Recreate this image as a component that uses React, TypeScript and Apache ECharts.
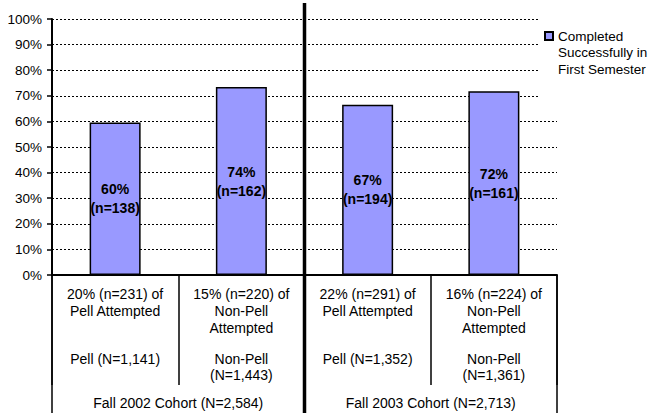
import React, { useEffect, useRef } from "react";
import * as echarts from "echarts";

const categories = [
  "20% (n=231) of\nPell Attempted",
  "15% (n=220) of\nNon-Pell\nAttempted",
  "22% (n=291) of\nPell Attempted",
  "16% (n=224) of\nNon-Pell\nAttempted",
];
const groupLabels = [
  "Pell (N=1,141)",
  "Non-Pell\n(N=1,443)",
  "Pell (N=1,352)",
  "Non-Pell\n(N=1,361)",
];
const cohortLabels = ["Fall 2002 Cohort (N=2,584)", "Fall 2003 Cohort (N=2,713)"];
const completedValues = [59.6, 73.4, 66.5, 71.8];
const percentLabels = ["60%", "74%", "67%", "72%"];
const countLabels = ["(n=138)", "(n=162)", "(n=194)", "(n=161)"];
const seriesName = "Completed\nSuccessfully in\nFirst Semester";

const W = 651;
const H = 413;
const GRID_LEFT = 52;
const GRID_RIGHT = 94;
const GRID_TOP = 19;
const GRID_BOTTOM = 138;
const FONT = "Arial, 'Liberation Sans', sans-serif";

export default function App() {
  const ref = useRef<HTMLDivElement>(null);
  useEffect(() => {
    document.body.style.margin = "0";
    if (!ref.current) return;
    const chart = echarts.init(ref.current, null, { renderer: "svg" });
    const dividerX = GRID_LEFT + (W - GRID_LEFT - GRID_RIGHT) / 2;
    chart.setOption({
      animation: false,
      backgroundColor: "#fff",
      textStyle: { fontFamily: FONT },
      grid: { left: GRID_LEFT, right: GRID_RIGHT, top: GRID_TOP, bottom: GRID_BOTTOM, containLabel: false },
      legend: {
        data: [seriesName],
        left: 538,
        top: -5.25,
        padding: [0, 4, 31, 6],
        backgroundColor: "#fff",
        icon: "rect",
        itemWidth: 8,
        itemHeight: 8,
        itemGap: 0,
        selectedMode: false,
        formatter: (name: string) => "\n\n" + name,
        textStyle: {
          fontFamily: FONT,
          fontSize: 13.5,
          lineHeight: 16.5,
          color: "#000",
        },
      },
      xAxis: [
        {
          type: "category",
          data: categories,
          position: "bottom",
          axisLine: { lineStyle: { color: "#000", width: 2 } },
          axisTick: { show: true, interval: 0, length: 110, lineStyle: { color: "#000", width: 1.5 } },
          axisLabel: {
            interval: 0,
            margin: 10.5,
            fontSize: 14,
            lineHeight: 17,
            color: "#000",
            fontFamily: FONT,
          },
          splitLine: { show: false },
        },
        {
          type: "category",
          data: groupLabels,
          position: "bottom",
          axisLine: { show: false },
          axisTick: { show: false },
          axisLabel: {
            interval: 0,
            margin: 75.5,
            fontSize: 14,
            lineHeight: 16,
            color: "#000",
            fontFamily: FONT,
          },
          splitLine: { show: false },
        },
        {
          type: "category",
          data: cohortLabels,
          position: "bottom",
          axisLine: { show: false },
          axisTick: { show: true, interval: 0, length: 140, lineStyle: { color: "#000", width: 1.5 } },
          axisLabel: {
            interval: 0,
            margin: 119.5,
            fontSize: 14,
            lineHeight: 17,
            color: "#000",
            fontFamily: FONT,
          },
          splitLine: { show: false },
        },
      ],
      yAxis: {
        type: "value",
        min: 0,
        max: 100,
        interval: 10,
        axisLine: { show: true, lineStyle: { color: "#000", width: 2 } },
        axisTick: { show: true, length: 5, lineStyle: { color: "#000", width: 1.5 } },
        axisLabel: {
          formatter: "{value}%",
          margin: 10,
          fontSize: 13.5,
          color: "#000",
          fontFamily: FONT,
        },
        splitLine: { show: true, lineStyle: { color: "#000", width: 1, type: [2, 2] } },
      },
      series: [
        {
          name: seriesName,
          type: "bar",
          xAxisIndex: 0,
          data: completedValues,
          barWidth: 51,
          itemStyle: { color: "#9999FF", borderColor: "#000", borderWidth: 1.5 },
          label: {
            show: true,
            position: "inside",
            formatter: (p: any) => percentLabels[p.dataIndex] + "\n" + countLabels[p.dataIndex],
            fontFamily: FONT,
            fontSize: 14,
            fontWeight: "bold",
            lineHeight: 19,
            color: "#000",
          },
        },
      ],
      graphic: [
        {
          type: "line",
          z: 100,
          shape: { x1: dividerX, y1: 3, x2: dividerX, y2: H },
          style: { stroke: "#000", lineWidth: 3.5 },
        },
      ],
    });
    return () => chart.dispose();
  }, []);
  return <div ref={ref} style={{ width: W, height: H }} />;
}
